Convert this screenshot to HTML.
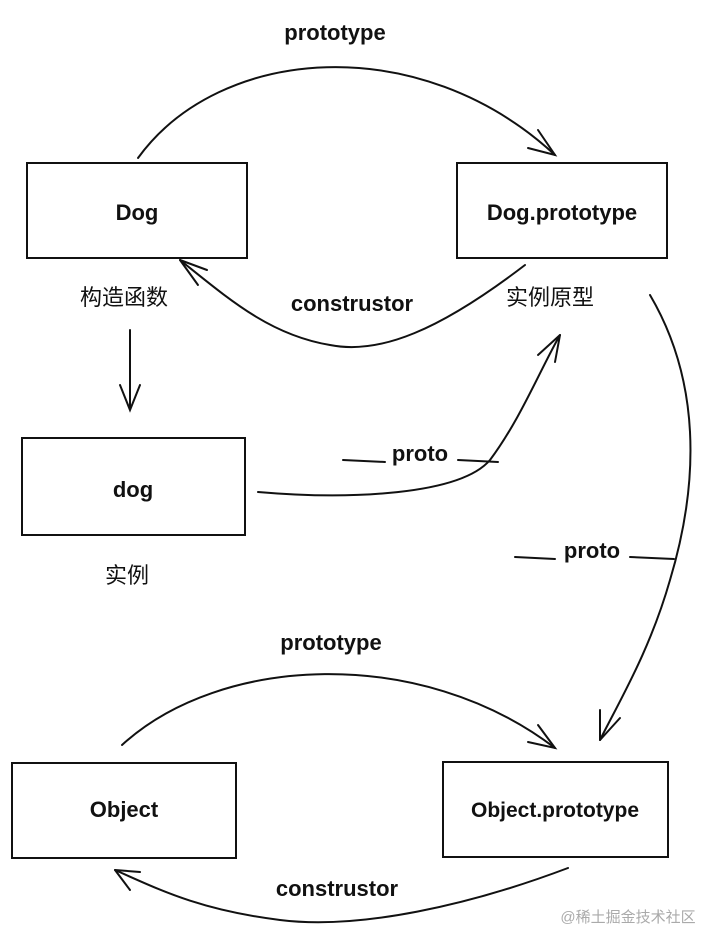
<!DOCTYPE html>
<html><head><meta charset="utf-8"><style>
html,body{margin:0;padding:0;background:#fff;}
svg{display:block;}
text{font-family:"Liberation Sans","Noto Sans CJK SC",sans-serif;fill:#111;}
.l{font-weight:bold;font-size:22px;}
.c{font-size:22px;}
</style></head><body>
<svg width="720" height="948" viewBox="0 0 720 948" xmlns="http://www.w3.org/2000/svg">
<g fill="none" stroke="#111" stroke-width="2" stroke-linecap="round">
<rect x="27" y="163" width="220" height="95"/>
<rect x="457" y="163" width="210" height="95"/>
<rect x="22" y="438" width="223" height="97"/>
<rect x="12" y="763" width="224" height="95"/>
<rect x="443" y="762" width="225" height="95"/>
<path d="M138 158 C220 45 420 30 555 155"/>
<path d="M528 148 L555 155 L538 130"/>
<path d="M525 265 C440 330 380 355 330 345 C270 335 230 300 180 260"/>
<path d="M180 260 L207 270 M180 260 L198 285"/>
<path d="M130 330 L130 410 M120 385 L130 410 L140 385"/>
<path d="M258 492 C350 500 460 495 490 460 C520 420 540 370 560 335"/>
<path d="M560 335 L538 355 M560 335 L555 362"/>
<path d="M650 295 C700 380 700 480 670 580 C650 650 620 700 600 740"/>
<path d="M600 740 L600 710 M600 740 L620 718"/>
<path d="M122 745 C220 655 420 645 555 748"/>
<path d="M528 742 L555 748 L538 725"/>
<path d="M568 868 C470 905 360 930 280 920 C200 910 160 890 115 870"/>
<path d="M115 870 L140 872 M115 870 L130 890"/>
<path d="M343 460 L385 462 M458 460 L498 462"/>
<path d="M515 557 L555 559 M630 557 L674 559"/>
</g>
<text class="l" x="335" y="40" text-anchor="middle">prototype</text>
<text class="l" x="137" y="220" text-anchor="middle">Dog</text>
<text class="l" x="562" y="220" text-anchor="middle">Dog.prototype</text>
<text class="c" x="80" y="305">构造函数</text>
<text class="c" x="506" y="305">实例原型</text>
<text class="l" x="352" y="311" text-anchor="middle">construstor</text>
<text class="l" x="133" y="497" text-anchor="middle">dog</text>
<text class="c" x="105" y="583">实例</text>
<text class="l" x="420" y="461" text-anchor="middle">proto</text>
<text class="l" x="592" y="558" text-anchor="middle">proto</text>
<text class="l" x="331" y="650" text-anchor="middle">prototype</text>
<text class="l" x="124" y="817" text-anchor="middle">Object</text>
<text class="l" x="555" y="817" text-anchor="middle" style="font-size:21px">Object.prototype</text>
<text class="l" x="337" y="896" text-anchor="middle">construstor</text>
<text x="628" y="922" text-anchor="middle" style="font-size:15px;fill:#aaa;">@稀土掘金技术社区</text>
</svg>
</body></html>
